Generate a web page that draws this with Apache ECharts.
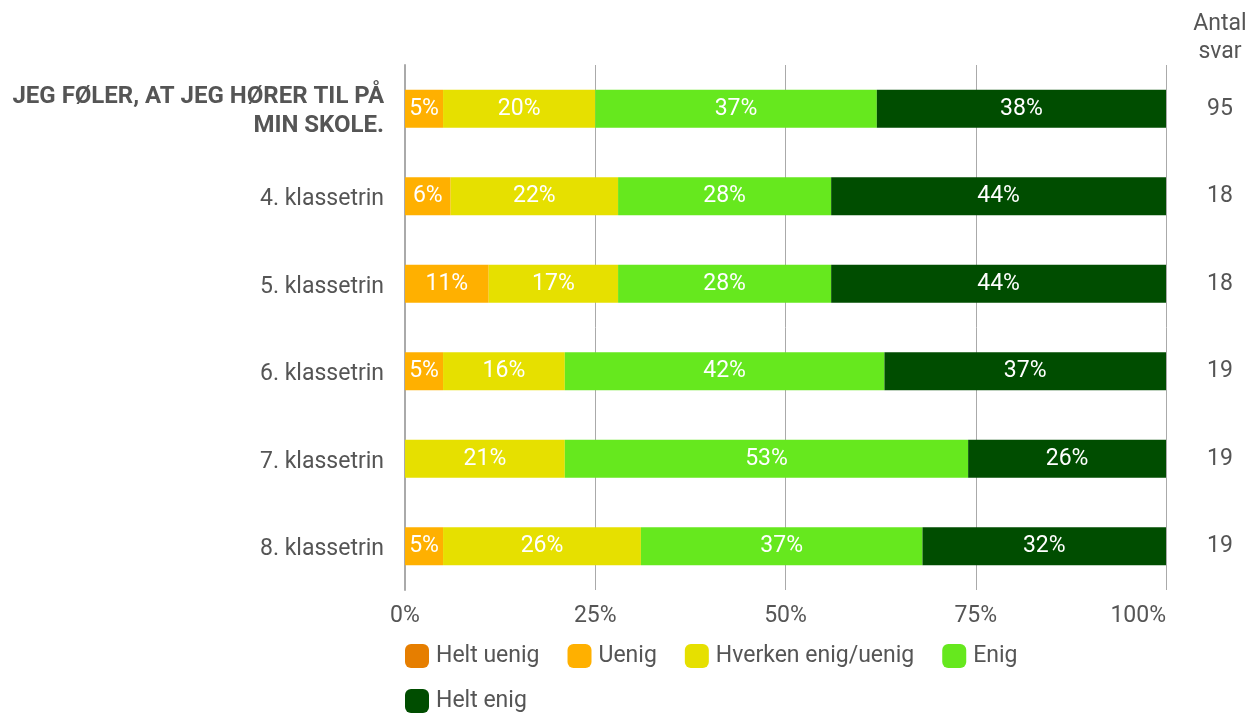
<!DOCTYPE html>
<html>
<head>
<meta charset="utf-8">
<script src="https://cdn.jsdelivr.net/npm/echarts@6/dist/echarts.min.js"></script>
<style>html,body{margin:0;padding:0;background:#fff;}#c{width:1250px;height:713px;}</style>
</head>
<body>
<div id="c"></div>
<script>
const categories = ["JEG FØLER, AT JEG HØRER TIL PÅ\nMIN SKOLE.", "4. klassetrin", "5. klassetrin", "6. klassetrin", "7. klassetrin", "8. klassetrin"];
const counts = ["95", "18", "18", "19", "19", "19"];
const seriesNames = ["Helt uenig", "Uenig", "Hverken enig/uenig", "Enig", "Helt enig"];
const heltUenig = [0, 0, 0, 0, 0, 0];
const uenig = [5, 6, 11, 5, 0, 5];
const hverken = [20, 22, 17, 16, 21, 26];
const enig = [37, 28, 28, 42, 53, 37];
const heltEnig = [38, 44, 44, 37, 26, 32];
const xTicks = [0, 25, 50, 75, 100];
const colors = ["#E67E00", "#FFB000", "#E6E000", "#66E81E", "#004D00"];

const seriesData = [heltUenig, uenig, hverken, enig, heltEnig];
const FONT = 'Roboto, "Noto Sans", sans-serif';
const TXT = '#555555';

const chart = echarts.init(document.getElementById('c'), null, {renderer: 'canvas'});
chart.setOption({
  animation: false,
  textStyle: {fontFamily: FONT},
  color: colors,
  grid: {left: 405, right: 84, top: 65, bottom: 123, containLabel: false},
  xAxis: {
    type: 'value', min: xTicks[0], max: xTicks[xTicks.length - 1], interval: 25,
    axisLine: {show: false}, axisTick: {show: false},
    splitLine: {show: true, lineStyle: {color: '#aaaaaa', width: 1}},
    axisLabel: {formatter: '{value}%', margin: 15, fontSize: 23, color: TXT, fontFamily: FONT, alignMaxLabel: 'right'}
  },
  yAxis: [{
    type: 'category', data: categories, inverse: true,
    axisLine: {show: true, lineStyle: {color: '#aaaaaa', width: 2}},
    axisTick: {show: false},
    axisLabel: {
      margin: 21, fontSize: 23, color: TXT, fontFamily: FONT, lineHeight: 29, padding: [6, 0, 0, 0],
      formatter: function (v, i) {
        if (i === 0) return v.split('\n').map(l => '{b|' + l + '}').join('\n');
        return v;
      },
      rich: {b: {fontWeight: 'bold', fontSize: 24, color: TXT, fontFamily: FONT, lineHeight: 29, align: 'right'}}
    }
  }, {
    type: 'category', data: counts, inverse: true, position: 'right',
    axisLine: {show: false}, axisTick: {show: false},
    axisLabel: {margin: 41, fontSize: 23, color: TXT, fontFamily: FONT, padding: [6, 0, 0, 0]}
  }],
  legend: {
    data: seriesNames, left: 400, top: 639, width: 710,
    itemWidth: 24, itemHeight: 24, itemGap: 21, icon: 'roundRect',
    textStyle: {fontSize: 23, color: TXT, fontFamily: FONT, lineHeight: 20, padding: [0, 7, 0, 2]}
  },
  graphic: [{
    type: 'text', x: 1220, y: 10,
    style: {text: 'Antal\nsvar', textAlign: 'center', fill: TXT, font: '23px ' + FONT, lineHeight: 28}
  }],
  series: seriesNames.map((name, k) => ({
    name: name, type: 'bar', stack: 'total', barWidth: 38, yAxisIndex: 0,
    data: seriesData[k],
    itemStyle: {color: colors[k]},
    label: {
      show: true, position: 'inside', color: '#ffffff', fontSize: 23, fontFamily: FONT, padding: [4, 0, 0, 0],
      formatter: p => p.value ? p.value + '%' : ''
    }
  }))
});
</script>
</body>
</html>
